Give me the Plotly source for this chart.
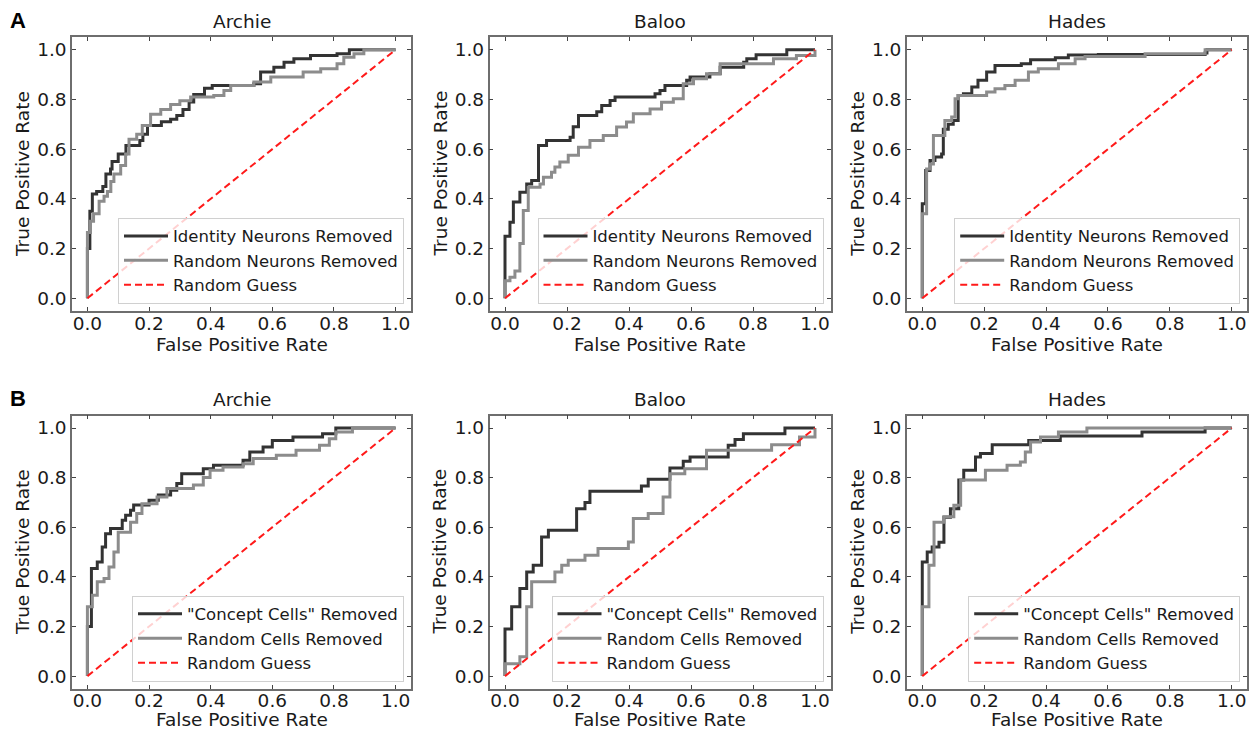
import plotly.graph_objects as go

W, H = 1251, 731

subjects = ["Archie", "Baloo", "Hades"]
row_labels = ["A", "B"]
row_a_names = ["Identity Neurons Removed", "Random Neurons Removed", "Random Guess"]
row_b_names = ['"Concept Cells" Removed', "Random Cells Removed", "Random Guess"]
x_title = "False Positive Rate"
y_title = "True Positive Rate"
tick_vals = [0.0, 0.2, 0.4, 0.6, 0.8, 1.0]
tick_text = ["0.0", "0.2", "0.4", "0.6", "0.8", "1.0"]

# ---- Row A: Archie ----
a_archie_id_fpr = [0, 0, 0.008, 0.016, 0.03, 0.05, 0.06, 0.075, 0.08, 0.10, 0.125, 0.17, 0.18, 0.195, 0.24, 0.27, 0.29, 0.31, 0.33, 0.345, 0.38, 0.405, 0.54, 0.562, 0.605, 0.638, 0.67, 0.724, 0.81, 0.85, 1.0]
a_archie_id_tpr = [0, 0.2, 0.35, 0.42, 0.43, 0.45, 0.50, 0.52, 0.55, 0.58, 0.615, 0.635, 0.66, 0.695, 0.71, 0.72, 0.735, 0.76, 0.79, 0.82, 0.845, 0.856, 0.863, 0.91, 0.93, 0.95, 0.964, 0.977, 0.984, 1.0, 1.0]
a_archie_rn_fpr = [0, 0, 0.01, 0.02, 0.038, 0.054, 0.065, 0.076, 0.086, 0.108, 0.124, 0.135, 0.16, 0.178, 0.205, 0.238, 0.27, 0.30, 0.335, 0.41, 0.443, 0.465, 0.54, 0.595, 0.70, 0.757, 0.81, 0.832, 0.865, 0.897, 1.0]
a_archie_rn_tpr = [0, 0.265, 0.31, 0.34, 0.39, 0.41, 0.43, 0.47, 0.50, 0.534, 0.58, 0.64, 0.66, 0.695, 0.74, 0.76, 0.78, 0.795, 0.81, 0.816, 0.836, 0.856, 0.87, 0.89, 0.91, 0.923, 0.944, 0.97, 0.984, 1.0, 1.0]

# ---- Row A: Baloo ----
a_baloo_id_fpr = [0, 0, 0.016, 0.027, 0.048, 0.07, 0.086, 0.108, 0.134, 0.21, 0.22, 0.237, 0.296, 0.312, 0.339, 0.355, 0.484, 0.50, 0.516, 0.586, 0.597, 0.661, 0.694, 0.77, 0.78, 0.81, 0.909, 1.0]
a_baloo_id_tpr = [0, 0.25, 0.306, 0.387, 0.427, 0.46, 0.474, 0.615, 0.635, 0.648, 0.69, 0.735, 0.75, 0.776, 0.796, 0.81, 0.823, 0.836, 0.856, 0.877, 0.89, 0.903, 0.93, 0.95, 0.964, 0.98, 1.0, 1.0]
a_baloo_rn_fpr = [0, 0, 0.016, 0.032, 0.048, 0.059, 0.075, 0.113, 0.124, 0.15, 0.161, 0.177, 0.204, 0.237, 0.274, 0.317, 0.36, 0.392, 0.414, 0.468, 0.505, 0.543, 0.575, 0.608, 0.65, 0.694, 0.866, 0.94, 1.0]
a_baloo_rn_tpr = [0, 0.07, 0.085, 0.11, 0.22, 0.353, 0.447, 0.46, 0.487, 0.507, 0.528, 0.548, 0.575, 0.608, 0.635, 0.655, 0.689, 0.709, 0.742, 0.762, 0.789, 0.803, 0.863, 0.883, 0.903, 0.944, 0.964, 0.977, 1.0]

# ---- Row A: Hades ----
a_hades_id_fpr = [0, 0, 0.011, 0.025, 0.041, 0.0625, 0.068, 0.084, 0.10, 0.116, 0.133, 0.16, 0.18, 0.208, 0.235, 0.32, 0.35, 0.43, 0.472, 0.569, 0.914, 0.92, 1.0]
a_hades_id_tpr = [0, 0.38, 0.514, 0.554, 0.568, 0.58, 0.68, 0.70, 0.715, 0.816, 0.823, 0.85, 0.877, 0.91, 0.937, 0.944, 0.96, 0.968, 0.979, 0.981, 0.987, 1.0, 1.0]
a_hades_rn_fpr = [0, 0, 0.014, 0.025, 0.036, 0.073, 0.095, 0.106, 0.116, 0.208, 0.235, 0.267, 0.30, 0.343, 0.375, 0.44, 0.494, 0.526, 0.72, 0.914, 1.0]
a_hades_rn_tpr = [0, 0.34, 0.52, 0.54, 0.655, 0.715, 0.729, 0.803, 0.816, 0.83, 0.843, 0.856, 0.877, 0.91, 0.923, 0.944, 0.964, 0.973, 0.984, 1.0, 1.0]

# ---- Row B: Archie ----
b_archie_cc_fpr = [0, 0, 0.013, 0.032, 0.048, 0.059, 0.075, 0.113, 0.124, 0.14, 0.15, 0.2, 0.23, 0.27, 0.29, 0.306, 0.376, 0.409, 0.505, 0.527, 0.57, 0.60, 0.667, 0.763, 0.806, 1.0]
b_archie_cc_tpr = [0, 0.2, 0.434, 0.46, 0.52, 0.574, 0.595, 0.628, 0.648, 0.668, 0.69, 0.709, 0.73, 0.749, 0.776, 0.816, 0.836, 0.85, 0.87, 0.903, 0.923, 0.95, 0.964, 0.977, 1.0, 1.0]
b_archie_rc_fpr = [0, 0, 0.016, 0.032, 0.054, 0.07, 0.086, 0.10, 0.14, 0.16, 0.177, 0.226, 0.258, 0.344, 0.376, 0.398, 0.44, 0.505, 0.538, 0.613, 0.677, 0.753, 0.785, 0.806, 0.86, 1.0]
b_archie_rc_tpr = [0, 0.28, 0.326, 0.38, 0.393, 0.44, 0.50, 0.58, 0.62, 0.655, 0.695, 0.722, 0.756, 0.77, 0.80, 0.83, 0.843, 0.856, 0.877, 0.89, 0.91, 0.93, 0.957, 0.984, 1.0, 1.0]

# ---- Row B: Baloo ----
b_baloo_cc_fpr = [0, 0, 0.0215, 0.048, 0.07, 0.091, 0.118, 0.14, 0.231, 0.258, 0.274, 0.44, 0.462, 0.532, 0.575, 0.597, 0.72, 0.742, 0.769, 0.903, 1.0]
b_baloo_cc_tpr = [0, 0.19, 0.28, 0.353, 0.42, 0.447, 0.561, 0.588, 0.675, 0.70, 0.745, 0.766, 0.793, 0.839, 0.866, 0.883, 0.93, 0.954, 0.977, 1.0, 1.0]
b_baloo_rc_fpr = [0, 0, 0.048, 0.07, 0.086, 0.161, 0.183, 0.204, 0.258, 0.30, 0.398, 0.414, 0.462, 0.51, 0.532, 0.58, 0.65, 0.86, 0.95, 1.0]
b_baloo_rc_tpr = [0, 0.05, 0.078, 0.28, 0.38, 0.42, 0.447, 0.467, 0.487, 0.514, 0.541, 0.635, 0.655, 0.722, 0.816, 0.836, 0.91, 0.933, 0.964, 1.0]

# ---- Row B: Hades ----
b_hades_cc_fpr = [0, 0, 0.016, 0.032, 0.054, 0.07, 0.091, 0.118, 0.134, 0.172, 0.188, 0.226, 0.344, 0.446, 0.71, 0.914, 1.0]
b_hades_cc_tpr = [0, 0.46, 0.50, 0.52, 0.54, 0.64, 0.675, 0.79, 0.83, 0.883, 0.897, 0.933, 0.95, 0.968, 0.984, 1.0, 1.0]
b_hades_rc_fpr = [0, 0, 0.0215, 0.038, 0.07, 0.102, 0.124, 0.204, 0.274, 0.317, 0.333, 0.35, 0.382, 0.44, 0.532, 1.0]
b_hades_rc_tpr = [0, 0.28, 0.447, 0.62, 0.642, 0.689, 0.79, 0.83, 0.85, 0.863, 0.903, 0.944, 0.964, 0.984, 1.0, 1.0]

guess_fpr = [0, 1]
guess_tpr = [0, 1]

panels = [
    (a_archie_id_fpr, a_archie_id_tpr, a_archie_rn_fpr, a_archie_rn_tpr),
    (a_baloo_id_fpr, a_baloo_id_tpr, a_baloo_rn_fpr, a_baloo_rn_tpr),
    (a_hades_id_fpr, a_hades_id_tpr, a_hades_rn_fpr, a_hades_rn_tpr),
    (b_archie_cc_fpr, b_archie_cc_tpr, b_archie_rc_fpr, b_archie_rc_tpr),
    (b_baloo_cc_fpr, b_baloo_cc_tpr, b_baloo_rc_fpr, b_baloo_rc_tpr),
    (b_hades_cc_fpr, b_hades_cc_tpr, b_hades_rc_fpr, b_hades_rc_tpr),
]

# layout geometry (pixels)
col_px = [(72.0, 411.0), (489.5, 830.5), (906.8, 1247.2)]
row_px = [(37.3, 310.7), (415.6, 688.5)]

FONT = "DejaVu Sans"
TXT = "#1a1a1a"
C_DARK = "#333333"
C_GRAY = "#8c8c8c"
C_RED = "#ff1a1a"
FRAME = "#6e6e6e"
FS = 18.5

fig = go.Figure()
layout = {}
annotations = []

for i, (f1, t1, f2, t2) in enumerate(panels):
    r, c = divmod(i, 3)
    idx = i + 1
    xa = "x" if idx == 1 else f"x{idx}"
    ya = "y" if idx == 1 else f"y{idx}"
    lg = "legend" if idx == 1 else f"legend{idx}"
    names = row_a_names if r == 0 else row_b_names

    fig.add_trace(go.Scatter(x=f1, y=t1, mode="lines", line=dict(color=C_DARK, width=3, shape="hv"),
                             name=names[0], xaxis=xa, yaxis=ya, legend=lg))
    fig.add_trace(go.Scatter(x=f2, y=t2, mode="lines", line=dict(color=C_GRAY, width=3, shape="hv"),
                             name=names[1], xaxis=xa, yaxis=ya, legend=lg))
    fig.add_trace(go.Scatter(x=guess_fpr, y=guess_tpr, mode="lines",
                             line=dict(color=C_RED, width=2, dash="7px,4px"),
                             name=names[2], xaxis=xa, yaxis=ya, legend=lg))

    x0, x1 = col_px[c]
    y0, y1 = row_px[r]
    xd = [x0 / W, x1 / W]
    yd = [1 - y1 / H, 1 - y0 / H]
    axcommon = dict(range=[-0.05, 1.05], showgrid=False, zeroline=False, showline=True,
                    linecolor=FRAME, linewidth=1.5, mirror="allticks", ticks="inside",
                    ticklen=4, tickwidth=1.2, tickcolor="#444444",
                    tickvals=tick_vals, ticktext=tick_text,
                    tickfont=dict(family=FONT, size=FS, color=TXT))
    layout["xaxis" if idx == 1 else f"xaxis{idx}"] = dict(axcommon, domain=xd, anchor=ya,
                                                          ticklabelstandoff=-5)
    layout["yaxis" if idx == 1 else f"yaxis{idx}"] = dict(axcommon, domain=yd, anchor=xa)

    layout[lg] = dict(x=(x1 - 7) / W, y=1 - (y1 - 7) / H, xanchor="right", yanchor="bottom",
                      bgcolor="rgba(255,255,255,0.8)", bordercolor="#d0d0d0", borderwidth=1,
                      font=dict(family=FONT, size=16.5, color=TXT),
                      tracegroupgap=0, itemwidth=44)

    # subplot title
    annotations.append(dict(text=subjects[c], x=(x0 + x1) / 2 / W, y=1 - (y0 - 16) / H,
                            xref="paper", yref="paper", showarrow=False, xanchor="center", yanchor="middle",
                            font=dict(family=FONT, size=FS, color=TXT)))
    # x axis title
    if r == 0:
        annotations.append(dict(text=x_title, x=(x0 + x1) / 2 / W, y=1 - (y1 + 34) / H,
                                xref="paper", yref="paper", showarrow=False, xanchor="center",
                                yanchor="middle", borderpad=0,
                                font=dict(family=FONT, size=FS, color=TXT)))
    else:
        annotations.append(dict(text=x_title, x=(x0 + x1) / 2 / W, y=0.0,
                                xref="paper", yref="paper", showarrow=False, xanchor="center",
                                yanchor="bottom", borderpad=0,
                                font=dict(family=FONT, size=FS, color=TXT)))
    # y axis title
    annotations.append(dict(text=y_title, x=(x0 - 50) / W, y=1 - (y0 + y1) / 2 / H, textangle=-90,
                            xref="paper", yref="paper", showarrow=False, xanchor="center", yanchor="middle",
                            font=dict(family=FONT, size=FS, color=TXT)))

for r, lab in enumerate(row_labels):
    annotations.append(dict(text=f"<b>{lab}</b>", x=18 / W, y=1 - (row_px[r][0] - 17) / H,
                            xref="paper", yref="paper", showarrow=False, xanchor="center", yanchor="middle",
                            font=dict(family="Liberation Sans", size=22, color="#000000")))

fig.update_layout(
    width=W, height=H, margin=dict(l=0, r=0, t=0, b=0),
    paper_bgcolor="white", plot_bgcolor="white",
    annotations=annotations, showlegend=True,
    font=dict(family=FONT, color=TXT),
    **layout,
)

fig.write_html("out.html")
